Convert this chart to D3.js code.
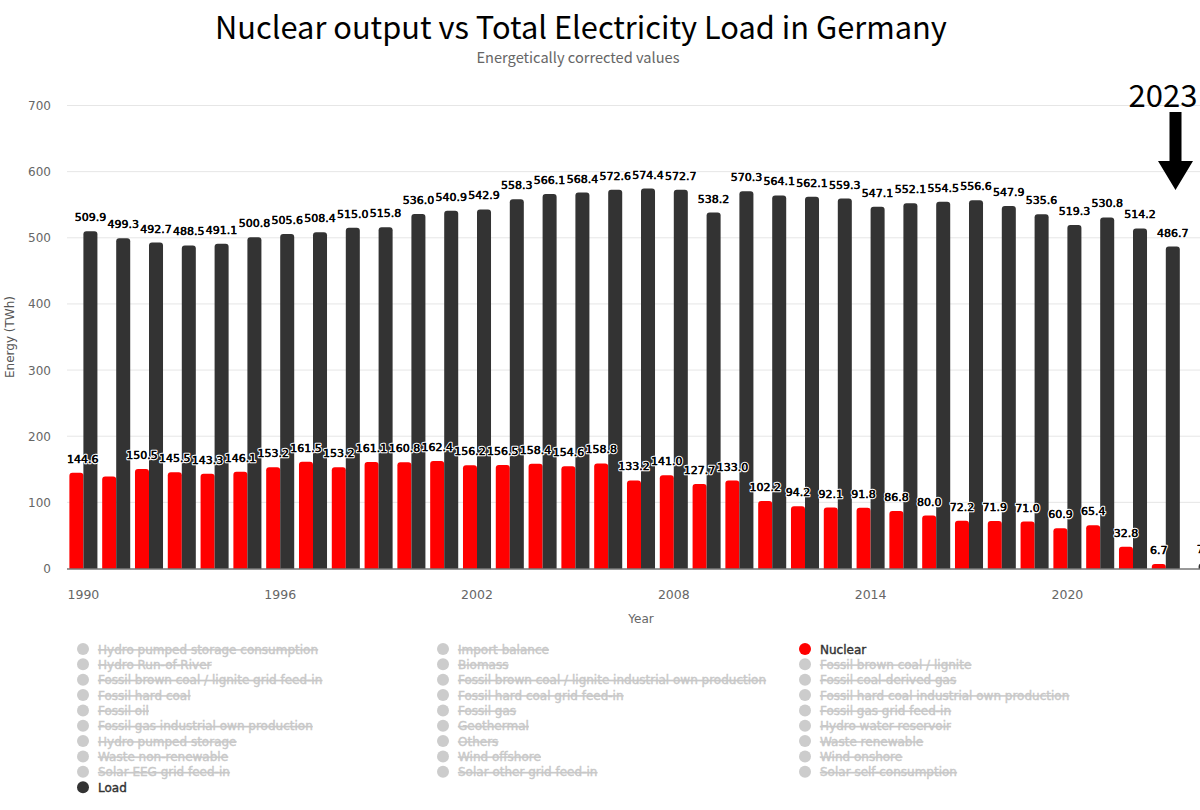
<!DOCTYPE html>
<html><head><meta charset="utf-8">
<script src="https://cdn.jsdelivr.net/npm/d3@7"></script>
<style>body{margin:0;background:#fff} svg{display:block}</style>
</head><body><svg id="c" width="1200" height="810"></svg>
<script>
const years = [1990,1991,1992,1993,1994,1995,1996,1997,1998,1999,2000,2001,2002,2003,2004,2005,2006,2007,2008,2009,2010,2011,2012,2013,2014,2015,2016,2017,2018,2019,2020,2021,2022,2023,2024];
const nuclear = [144.6,139.2,150.5,145.5,143.3,146.1,153.2,161.5,153.2,161.1,160.8,162.4,156.2,156.5,158.4,154.6,158.8,133.2,141.0,127.7,133.0,102.2,94.2,92.1,91.8,86.8,80.0,72.2,71.9,71.0,60.9,65.4,32.8,6.7,null];
const load = [509.9,499.3,492.7,488.5,491.1,500.8,505.6,508.4,515.0,515.8,536.0,540.9,542.9,558.3,566.1,568.4,572.6,574.4,572.7,538.2,570.3,564.1,562.1,559.3,547.1,552.1,554.5,556.6,547.9,535.6,519.3,530.8,514.2,486.7,7.6];
const yTicks = [0,100,200,300,400,500,600,700];
const xTickLabels = [1990,1996,2002,2008,2014,2020];
const legendNames = ["Hydro pumped storage consumption","Import balance","Nuclear","Hydro Run-of-River","Biomass","Fossil brown coal / lignite","Fossil brown coal / lignite grid feed-in","Fossil brown coal / lignite industrial own production","Fossil coal-derived gas","Fossil hard coal","Fossil hard coal grid feed-in","Fossil hard coal industrial own production","Fossil oil","Fossil gas","Fossil gas grid feed-in","Fossil gas industrial own production","Geothermal","Hydro water reservoir","Hydro pumped storage","Others","Waste renewable","Waste non-renewable","Wind offshore","Wind onshore","Solar EEG grid feed-in","Solar other grid feed-in","Solar self-consumption","Load"];
const visibleSeries = ["Nuclear","Load"];
const seriesColors = {Nuclear:"#ff0000", Load:"#333333"};
const titleText = "Nuclear output vs Total Electricity Load in Germany";
const subtitleText = "Energetically corrected values";
const annotationText = "2023";

const svg = d3.select("#c");
const plotL = 67, plotR = 1215, plotT = 105.5, plotB = 568.5;
const labelFont = "'DejaVu Sans', Verdana, sans-serif";

const x = d3.scaleBand().domain(years).range([plotL, plotR]).paddingInner(0).paddingOuter(0);
const xs = d3.scaleBand().domain(["Nuclear","Load"]).range([0, x.bandwidth()]).paddingInner(0).paddingOuter(0.17);
const y = d3.scaleLinear().domain([0,700]).range([plotB, plotT]);

function fitText(sel, target, base) {
  sel.attr("font-size", base);
  const w = sel.node().getComputedTextLength();
  sel.attr("font-size", base * target / w);
}
const title = svg.append("text").attr("x", 581).attr("y", 39).attr("text-anchor","middle")
  .attr("font-family","'Noto Sans CJK KR','Noto Sans',sans-serif").attr("fill","#000").text(titleText);
fitText(title, 732, 30);
const sub = svg.append("text").attr("x", 578).attr("y", 63).attr("text-anchor","middle")
  .attr("font-family","'Noto Sans CJK KR','Noto Sans',sans-serif").attr("fill","#666").text(subtitleText);
fitText(sub, 203, 14);

svg.append("g").selectAll("line").data(yTicks.filter(d=>d>0)).join("line")
  .attr("x1", plotL).attr("x2", plotR).attr("y1", d=>y(d)).attr("y2", d=>y(d))
  .attr("stroke","#e6e6e6").attr("stroke-width",1);
svg.append("g").selectAll("text").data(yTicks).join("text")
  .attr("x", 51).attr("y", d=>y(d)+4.5).attr("text-anchor","end")
  .attr("font-family",labelFont).attr("font-size",12).attr("fill","#666").text(d=>d);
svg.append("text").attr("transform","translate(14,337) rotate(-90)").attr("text-anchor","middle")
  .attr("font-family",labelFont).attr("font-size",12).attr("fill","#555").text("Energy (TWh)");

function topRounded(x0, y0, w, h, r) {
  r = Math.max(0, Math.min(r, h, w/2));
  return `M${x0},${y0+h}V${y0+r}Q${x0},${y0} ${x0+r},${y0}H${x0+w-r}Q${x0+w},${y0} ${x0+w},${y0+r}V${y0+h}Z`;
}
const seriesData = [{name:"Nuclear", values:nuclear},{name:"Load", values:load}];
const bars = svg.append("g");
seriesData.forEach(s => {
  bars.append("g").selectAll("path").data(years.map((yr,i)=>({yr, v:s.values[i]})).filter(d=>d.v!=null)).join("path")
    .attr("d", d => topRounded(x(d.yr)+xs(s.name), y(d.v), xs.bandwidth(), y(0)-y(d.v), 3))
    .attr("fill", seriesColors[s.name]);
});

svg.append("line").attr("x1",plotL).attr("x2",plotR).attr("y1",plotB+0.5).attr("y2",plotB+0.5).attr("stroke","#333").attr("stroke-width",1);
svg.append("g").selectAll("text").data(xTickLabels).join("text")
  .attr("x", d=>x(d)+x.bandwidth()/2).attr("y", 599).attr("text-anchor","middle")
  .attr("font-family",labelFont).attr("font-size",12.5).attr("fill","#666").text(d=>d);
svg.append("text").attr("x", 641).attr("y", 623).attr("text-anchor","middle")
  .attr("font-family",labelFont).attr("font-size",12).attr("fill","#666").text("Year");

const lblG = svg.append("g");
const shown = [];
seriesData.slice().reverse().forEach(s => {
  years.forEach((yr,i) => {
    const v = s.values[i]; if (v==null) return;
    const cx = x(yr)+xs(s.name)+xs.bandwidth()/2;
    const by = y(v) - 10;
    const t = lblG.append("text").attr("y", by).attr("text-anchor","middle")
      .attr("font-family",labelFont).attr("font-size",11).attr("fill","#000")
      .attr("stroke","#fff").attr("stroke-width",2.5).attr("paint-order","stroke").attr("stroke-linejoin","round")
      .text(v.toFixed(1));
    const w = t.node().getComputedTextLength();
    let left = cx - w/2;
    if (left < plotL) left = plotL;
    if (left + w > plotR) left = plotR - w;
    const box = {l:left, r:left+w, t:by-9, b:by+2};
    const hit = shown.some(o => Math.min(o.r,box.r)-Math.max(o.l,box.l) > 1 && Math.min(o.b,box.b)-Math.max(o.t,box.t) > 1);
    if (hit) { t.remove(); return; }
    shown.push(box);
    t.attr("x", left + w/2);
    lblG.append("text").attr("x", left+w/2).attr("y", by).attr("text-anchor","middle")
      .attr("font-family",labelFont).attr("font-size",11).attr("fill","#000")
      .attr("stroke","#000").attr("stroke-width",0.35).text(v.toFixed(1));
  });
});

svg.append("text").attr("x", 1163).attr("y", 107).attr("text-anchor","middle")
  .attr("font-family","'Noto Sans CJK KR','Noto Sans',sans-serif").attr("font-size",31).attr("fill","#000").text(annotationText);
svg.append("path").attr("d","M1169.5,112H1181.5V161H1193L1175.5,190L1158,161H1169.5Z").attr("fill","#000");

const colX = [83, 443, 805];
const rowY0 = 649, rowStep = 15.35;
const lg = svg.append("g");
legendNames.forEach((n, i) => {
  const cx = colX[i % 3], cy = rowY0 + Math.floor(i/3)*rowStep;
  const vis = visibleSeries.includes(n);
  const col = vis ? "#333" : "#c8c8c8";
  lg.append("circle").attr("cx", cx).attr("cy", cy).attr("r", 6).attr("fill", vis ? seriesColors[n] : "#cccccc");
  lg.append("text").attr("x", cx+15).attr("y", cy+4.5)
    .attr("font-family",labelFont).attr("font-size",12).attr("fill", col)
    .attr("stroke", col).attr("stroke-width", 0.4)
    .attr("text-decoration", vis ? "none" : "line-through").text(n);
});
</script></body></html>
